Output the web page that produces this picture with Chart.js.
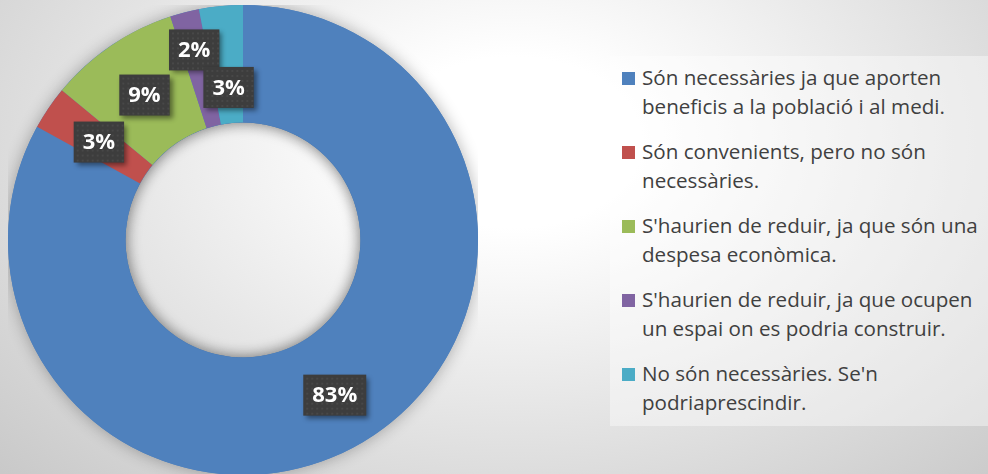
<!DOCTYPE html>
<html><head><meta charset="utf-8">
<script src="https://cdn.jsdelivr.net/npm/chart.js@4"></script>
<style>
html,body{margin:0;padding:0;width:988px;height:474px;overflow:hidden;}
body{position:relative;font-family:"Open Sans",sans-serif;
background:radial-gradient(ellipse 72% 100% at 52% 30%, #ffffff 18%, #c9c9c9 100%);}
#wrap{position:absolute;left:8px;top:5px;width:470px;height:470px;}
#legend{position:absolute;left:610px;top:56px;width:378px;height:370px;background:rgba(255,255,255,0.4);}
.item{position:absolute;left:0;width:378px;}
.sw{position:absolute;left:12px;top:9px;width:13px;height:13px;}
.tx{position:absolute;left:32px;top:0;font-size:20.6px;line-height:29px;color:#404040;white-space:nowrap;}
</style></head>
<body>
<div id="wrap"><canvas id="c" width="470" height="470"></canvas></div>
<div id="legend"></div>
<script>
const categories = [
  ["Són necessàries ja que aporten", "beneficis a la població i al medi."],
  ["Són convenients, pero no són", "necessàries."],
  ["S'haurien de reduir, ja que són una", "despesa econòmica."],
  ["S'haurien de reduir, ja que ocupen", "un espai on es podria construir."],
  ["No són necessàries. Se'n", "podriaprescindir."]
];
const values = [83, 3, 9, 2, 3];
const valueLabels = ["83%", "3%", "9%", "2%", "3%"];
const colors = ["#4F81BD", "#C0504D", "#9BBB59", "#8064A2", "#4BACC6"];

const labelRadialShift = [4, -2, -1, 20, -23];

const ringShadow = {
  id: 'ringShadow',
  beforeDatasetsDraw(chart) {
    const a = chart.getDatasetMeta(0).data[0];
    if (!a) return;
    const ctx = chart.ctx;
    ctx.save();
    ctx.shadowColor = 'rgba(0,0,0,0.3)';
    ctx.shadowBlur = 16;
    ctx.beginPath();
    ctx.arc(a.x, a.y, a.outerRadius, 0, Math.PI * 2);
    ctx.arc(a.x, a.y, a.innerRadius, 0, Math.PI * 2, true);
    ctx.fillStyle = colors[0];
    ctx.fill();
    ctx.restore();
  },
  afterDatasetsDraw(chart) {
    const a = chart.getDatasetMeta(0).data[0];
    if (!a) return;
    const ctx = chart.ctx;
    ctx.save();
    ctx.beginPath();
    ctx.arc(a.x, a.y, a.innerRadius, 0, Math.PI * 2);
    ctx.clip();
    ctx.shadowColor = 'rgba(0,0,0,0.3)';
    ctx.shadowBlur = 14;
    ctx.lineWidth = 20;
    ctx.strokeStyle = '#4F81BD';
    ctx.beginPath();
    ctx.arc(a.x, a.y, a.innerRadius + 10, 0, Math.PI * 2);
    ctx.stroke();
    ctx.restore();
  }
};

const boxLabels = {
  id: 'boxLabels',
  afterDraw(chart) {
    const ctx = chart.ctx;
    const meta = chart.getDatasetMeta(0);
    ctx.save();
    ctx.font = 'bold 22px "Open Sans"';
    ctx.textAlign = 'center';
    ctx.textBaseline = 'middle';
    meta.data.forEach((arc, i) => {
      const mid = (arc.startAngle + arc.endAngle) / 2;
      const r = (arc.innerRadius + arc.outerRadius) / 2 + labelRadialShift[i];
      const cx = arc.x + Math.cos(mid) * r;
      const cy = arc.y + Math.sin(mid) * r;
      const t = valueLabels[i];
      const w = ctx.measureText(t).width + 18;
      const h = 41;
      ctx.save();
      ctx.shadowColor = 'rgba(0,0,0,0.45)';
      ctx.shadowBlur = 5;
      ctx.shadowOffsetX = 3;
      ctx.shadowOffsetY = 3;
      ctx.fillStyle = '#3d3d3d';
      ctx.fillRect(cx - w / 2, cy - h / 2, w, h);
      ctx.restore();
      ctx.fillStyle = 'rgba(255,255,255,0.06)';
      for (let yy = cy - h / 2 + 3; yy < cy + h / 2 - 1; yy += 5) {
        for (let xx = cx - w / 2 + 3; xx < cx + w / 2 - 1; xx += 5) {
          ctx.fillRect(xx, yy, 2, 2);
        }
      }
      ctx.fillStyle = '#ffffff';
      ctx.fillText(t, cx, cy + 1);
    });
    ctx.restore();
  }
};

new Chart(document.getElementById('c'), {
  type: 'doughnut',
  data: {
    labels: categories,
    datasets: [{ data: values, backgroundColor: colors, borderWidth: 0 }]
  },
  options: {
    responsive: false,
    animation: false,
    cutout: '50%',
    layout: { padding: 0 },
    plugins: { legend: { display: false }, tooltip: { enabled: false } }
  },
  plugins: [ringShadow, boxLabels]
});

const legend = document.getElementById('legend');
categories.forEach((lines, i) => {
  const it = document.createElement('div');
  it.className = 'item';
  it.style.top = (7 + i * 74) + 'px';
  const sw = document.createElement('div');
  sw.className = 'sw';
  sw.style.background = colors[i];
  const tx = document.createElement('div');
  tx.className = 'tx';
  tx.innerHTML = lines.map(s => s.replace(/&/g,'&amp;').replace(/</g,'&lt;')).join('<br>');
  it.appendChild(sw); it.appendChild(tx);
  legend.appendChild(it);
});
</script>
</body></html>
